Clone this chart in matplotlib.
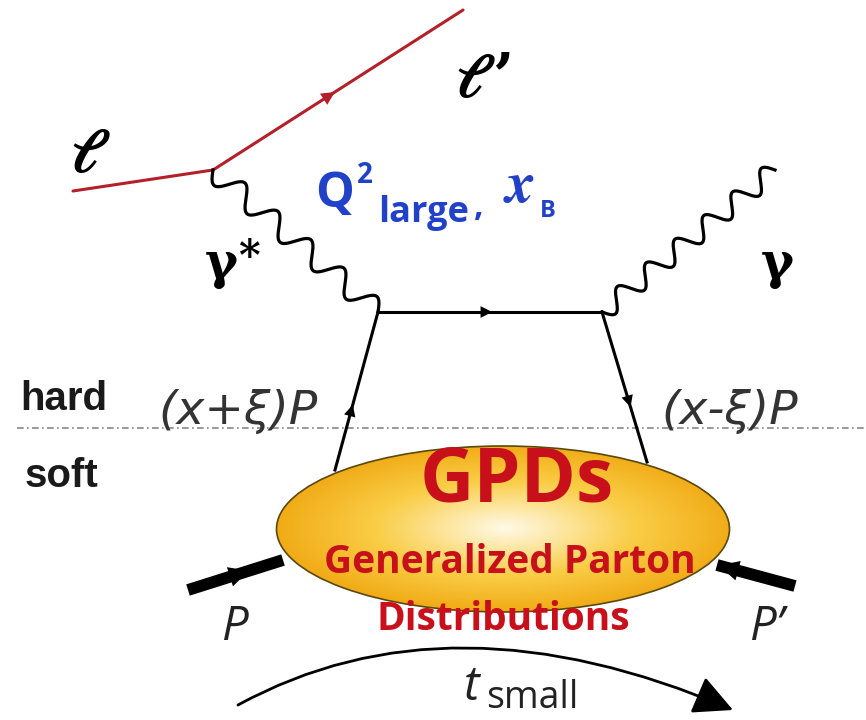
import numpy as np
import matplotlib
matplotlib.use("Agg")
import matplotlib.pyplot as plt
from matplotlib.patches import Ellipse, FancyArrowPatch
from matplotlib.path import Path

# diagram geometry (pixel space, y down)
lepton_in = [(73, 191), (213, 170)]
lepton_out = [(213, 170), (463, 10)]
vstar_photon = [(213, 170), (378, 312)]
real_photon = [(602, 312), (775, 170)]
quark_top = [(378, 312), (602, 312)]
quark_left = [(335, 470), (378, 312)]
quark_right = [(602, 312), (647, 462)]
proton_in = [(188, 590), (283, 560)]
proton_out = [(717, 565), (795, 586)]
t_curve = [(238, 705), (450, 589), (733, 710)]
blob_center = (503, 529)
blob_size = (453, 166)

RED = "#b3202a"
BLUE = "#2142c8"
GPD_RED = "#c8101a"
GRAY = "#333333"

fig = plt.figure(figsize=(8.66, 7.2), dpi=100)
ax = fig.add_axes([0, 0, 1, 1])
ax.set_xlim(0, 866)
ax.set_ylim(720, 0)
ax.axis("off")


def arrow_on(p0, p1, frac=0.5, color="black", size=14):
    # small filled arrow head in the middle of a line
    p0 = np.array(p0, float)
    p1 = np.array(p1, float)
    d = (p1 - p0) / np.linalg.norm(p1 - p0)
    tip = p0 + frac * (p1 - p0) + d * 5
    tail = tip - d * 8
    ax.add_patch(FancyArrowPatch(tail, tip, arrowstyle="-|>,head_length=0.6,head_width=0.3",
                                 mutation_scale=size, color=color, lw=0, zorder=4))


def wavy(p0, p1, n_per, amp, **kw):
    p0 = np.array(p0, float)
    p1 = np.array(p1, float)
    t = np.linspace(0, 1, 600)
    d = p1 - p0
    nrm = np.array([-d[1], d[0]]) / np.linalg.norm(d)
    pts = p0[None, :] + t[:, None] * d[None, :] + (amp * np.sin(2 * np.pi * n_per * t))[:, None] * nrm[None, :]
    ax.plot(pts[:, 0], pts[:, 1], **kw)


# leptons
ax.plot(*zip(*lepton_in), color=RED, lw=2.2, solid_capstyle="round", zorder=3)
ax.plot(*zip(*lepton_out), color=RED, lw=2.2, solid_capstyle="round", zorder=3)
arrow_on(*lepton_out, frac=0.48, color=RED, size=16)

# photons
wavy(*vstar_photon, 5, 11, color="black", lw=2.3, zorder=3)
wavy(*real_photon, 6, 10, color="black", lw=2.3, zorder=3)

# quarks
for seg in (quark_top, quark_left, quark_right):
    ax.plot(*zip(*seg), color="black", lw=2.2, zorder=3)
arrow_on(*quark_top, frac=0.5)
arrow_on(*quark_left, frac=0.4)
arrow_on(*quark_right, frac=0.62)

# hard / soft separator
ax.plot([17, 866], [428, 428], color="#888888", lw=1.2, ls=(0, (4, 2, 1, 2)), zorder=2)

# protons
ax.plot(*zip(*proton_in), color="black", lw=8.5, solid_capstyle="butt", zorder=3)
ax.plot(*zip(*proton_out), color="black", lw=8.5, solid_capstyle="butt", zorder=3)
arrow_on(*proton_in, frac=0.62, size=24)
arrow_on(proton_out[1], proton_out[0], frac=0.95, size=24)

# GPD blob with radial gradient
cx, cy = blob_center
w, h = blob_size
ell = Ellipse((cx, cy), w, h, facecolor="none", edgecolor="#5a4810", lw=1.2, zorder=6)
ax.add_patch(ell)
gx = np.linspace(cx - w / 2, cx + w / 2, 400)
gy = np.linspace(cy - h / 2, cy + h / 2, 200)
X, Y = np.meshgrid(gx, gy)
r = np.sqrt(((X - 505) / (w / 2)) ** 2 + ((Y - 528) / (h / 2)) ** 2)
r = np.clip(r / 1.05, 0, 1)
c_in = np.array([255, 250, 232]) / 255
c_mid = np.array([250, 205, 70]) / 255
c_out = np.array([240, 168, 18]) / 255
k = np.clip(r / 0.55, 0, 1)[..., None]
img = np.where(r[..., None] < 0.55, c_in + (c_mid - c_in) * k,
               c_mid + (c_out - c_mid) * np.clip((r[..., None] - 0.55) / 0.45, 0, 1))
im = ax.imshow(img, extent=(cx - w / 2, cx + w / 2, cy + h / 2, cy - h / 2), zorder=5,
               interpolation="bilinear")
clip = Ellipse((cx, cy), w, h, transform=ax.transData, facecolor="none", edgecolor="none")
ax.add_patch(clip)
im.set_clip_path(clip)
ax.set_xlim(0, 866)
ax.set_ylim(720, 0)

# t arrow
tp = Path(t_curve, [Path.MOVETO, Path.CURVE3, Path.CURVE3])
ax.add_patch(FancyArrowPatch(path=tp, arrowstyle="-|>,head_length=1.1,head_width=0.55",
                             mutation_scale=22, color="black", lw=2.0, zorder=3))

# labels
sans = ["Open Sans", "DejaVu Sans"]
serif = ["DejaVu Serif", "DejaVu Sans"]
ax.text(70, 172, r"$\boldsymbol{\ell}$", fontsize=44, math_fontfamily="stix", color="black")
ax.text(455, 97, r"$\boldsymbol{\ell}\,$’", fontsize=44, fontweight="bold", family=serif,
        math_fontfamily="stix", color="black")
ax.text(205, 278, "γ", fontsize=36, fontweight="bold", family=serif, color="black")
ax.text(238, 270, "*", fontsize=30, fontweight="bold", family=serif, color="black")
ax.text(761, 278, "γ", fontsize=36, fontweight="bold", family=serif, color="black")

ax.text(315, 207, "Q", fontsize=35, fontweight="bold", family=sans, color=BLUE)
ax.text(357, 183, "2", fontsize=20, fontweight="bold", family=sans, color=BLUE)
ax.text(378, 222, "large", fontsize=26, fontweight="bold", family=sans, color=BLUE)
ax.text(474, 216, "‚", fontsize=24, fontweight="bold", family=sans, color=BLUE)
ax.text(503, 202, r"$\boldsymbol{x}$", fontsize=42, math_fontfamily="stix", color=BLUE)
ax.text(540, 217, "B", fontsize=17, fontweight="bold", family=sans, color=BLUE)

ax.text(20, 410, "hard", fontsize=29, fontweight="bold", family=["Liberation Sans"], color="#1a1a1a")
ax.text(25, 487, "soft", fontsize=29, fontweight="bold", family=["Liberation Sans"], color="#1a1a1a")
ax.text(158, 424, "(x+ξ)P", fontsize=34, style="italic", family=["DejaVu Sans"], color=GRAY)
ax.text(661, 424, "(x-ξ)P", fontsize=34, style="italic", family=["DejaVu Sans"], color=GRAY)

ax.text(517, 502, "GPDs", fontsize=54, fontweight="bold", family=sans, color=GPD_RED,
        ha="center", zorder=7)
ax.text(510, 573, "Generalized Parton", fontsize=28, fontweight="bold", family=sans,
        color=GPD_RED, ha="center", zorder=7)
ax.text(503, 630, "Distributions", fontsize=28, fontweight="bold", family=sans,
        color=GPD_RED, ha="center", zorder=7)

ax.text(221, 640, "P", fontsize=34, style="italic", family=sans, color="#222222")
ax.text(749, 640, "P’", fontsize=34, style="italic", family=sans, color="#222222")
ax.text(464, 700, "t", fontsize=34, style="italic", family=sans, color="#222222")
ax.text(486, 708, "small", fontsize=27, family=sans, color="#222222")

fig.savefig("out.png", dpi=100)
